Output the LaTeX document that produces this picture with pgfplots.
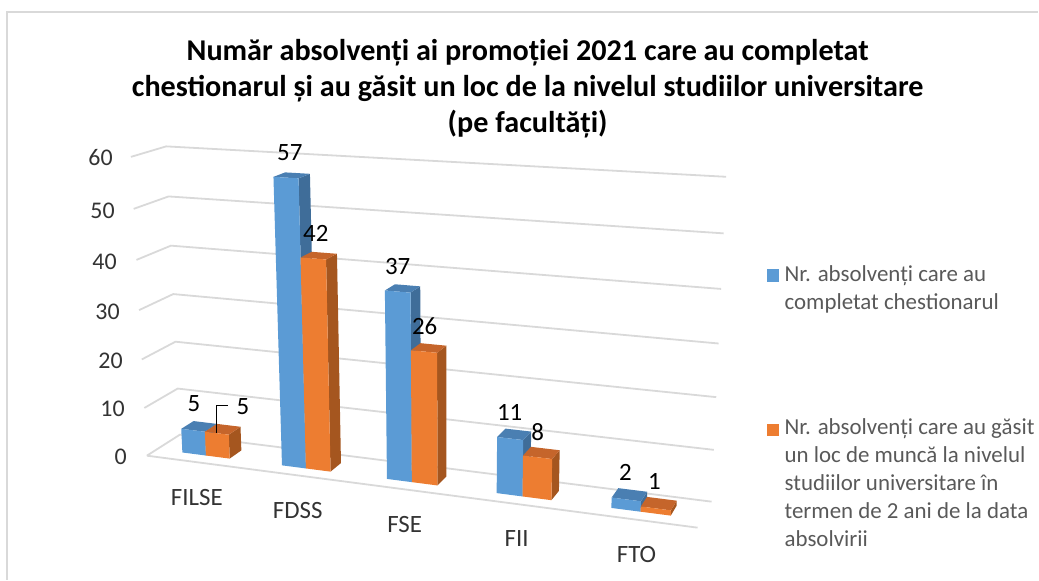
\documentclass[border=0pt]{standalone}
\usepackage{fontspec}
\setmainfont{Carlito}
\usepackage{pgfplots}
\pgfplotsset{compat=1.18}
\definecolor{gridc}{HTML}{D9D9D9}
\definecolor{blF}{HTML}{5B9BD5}
\definecolor{blT}{HTML}{4A7FB2}
\definecolor{blS}{HTML}{3F6D99}
\definecolor{orF}{HTML}{ED7D31}
\definecolor{orT}{HTML}{C5652B}
\definecolor{orS}{HTML}{A5561F}
\definecolor{legc}{HTML}{595959}
\definecolor{tickc}{HTML}{333333}
% projection of (category c, depth d, value) on to the picture plane
\newcommand\U{((\thisrow{c}+0.5)/5)}
\newcommand\D{\thisrow{d}}
\newcommand\V{(\thisrow{val}/60)}
\newcommand\W{(1-0.094*\U+0.0382*\D-0.05*\V)}
\newcommand\PX{(147+485.4*\U+39.9*\D-22.55*\V)/\W}
\newcommand\PY{(456+22.4*\U-4.4*\D-306.85*\V)/\W-10*\U*\V}
\pgfkeys{/pgfplots/table/proj/.style={/pgfplots/table/row sep=\\,/pgfplots/table/x expr=\PX,/pgfplots/table/y expr=\PY}}
\newcommand\gridl[1]{\addplot[gridc,line width=1.8bp,mark=none] table[proj]{c d val\\ -0.5 0 #1\\ -0.5 1 #1\\ 4.5 1 #1\\};}
% \tdbar{c0}{c1}{value}{front}{top}{side}
\newcommand\tdbar[6]{%
\addplot[fill=#6,draw=none,mark=none] table[proj]{c d val\\ #2 0.3 0\\ #2 0.68 0\\ #2 0.68 #3\\ #2 0.3 #3\\};
\addplot[fill=#5,draw=none,mark=none] table[proj]{c d val\\ #1 0.3 #3\\ #2 0.3 #3\\ #2 0.68 #3\\ #1 0.68 #3\\};
\addplot[fill=#4,draw=none,mark=none] table[proj]{c d val\\ #1 0.3 0\\ #2 0.3 0\\ #2 0.3 #3\\ #1 0.3 #3\\};
}
\begin{document}
\begin{tikzpicture}
\begin{axis}[scale only axis,width=1039bp,height=580bp,xmin=0,xmax=1039,ymin=0,ymax=580,y dir=reverse,hide axis,clip=false]
\path (axis cs:0,0) rectangle (axis cs:1039,580);
% frame
\addplot[gridc,line width=1.5bp,mark=none] coordinates {(7,580) (7,12) (1039,12)};
% walls and floor
\gridl{10}\gridl{20}\gridl{30}\gridl{40}\gridl{50}\gridl{60}
\gridl{0}
\addplot[gridc,line width=1.8bp,mark=none] table[proj]{c d val\\ -0.5 0 0\\ 4.5 0 0\\};
% FILSE
\tdbar{-0.245}{-0.01}{5}{blF}{blT}{blS}
\tdbar{-0.01}{0.225}{5}{orF}{orT}{orS}
% FDSS
\tdbar{0.735}{0.965}{57}{blF}{blT}{blS}
\tdbar{0.965}{1.20}{42}{orF}{orT}{orS}
% FSE
\tdbar{1.73}{1.96}{37}{blF}{blT}{blS}
\tdbar{1.96}{2.195}{26}{orF}{orT}{orS}
% FII
\tdbar{2.73}{2.96}{11}{blF}{blT}{blS}
\tdbar{2.96}{3.215}{8}{orF}{orT}{orS}
% FTO
\tdbar{3.735}{3.985}{2}{blF}{blT}{blS}
\tdbar{3.985}{4.24}{1}{orF}{orT}{orS}
% leader line
\addplot[black,line width=1bp,mark=none] coordinates {(217,433) (217,406) (228,406)};
% title
\node[align=center,font=\fontsize{30.3}{36}\selectfont\bfseries,text=black] at (axis cs:528,89) {Număr absolvenți ai promoției 2021 care au completat\\chestionarul și au găsit un loc de la nivelul studiilor universitare\\(pe facultăți)};
% value axis labels
\node[anchor=east,inner sep=0pt,font=\fontsize{24}{28}\selectfont,text=tickc] at (axis cs:113,158) {60};
\node[anchor=east,inner sep=0pt,font=\fontsize{24}{28}\selectfont,text=tickc] at (axis cs:115,211) {50};
\node[anchor=east,inner sep=0pt,font=\fontsize{24}{28}\selectfont,text=tickc] at (axis cs:117,262) {40};
\node[anchor=east,inner sep=0pt,font=\fontsize{24}{28}\selectfont,text=tickc] at (axis cs:120,312) {30};
\node[anchor=east,inner sep=0pt,font=\fontsize{24}{28}\selectfont,text=tickc] at (axis cs:123,361) {20};
\node[anchor=east,inner sep=0pt,font=\fontsize{24}{28}\selectfont,text=tickc] at (axis cs:125,409) {10};
\node[anchor=east,inner sep=0pt,font=\fontsize{24}{28}\selectfont,text=tickc] at (axis cs:127,457) {0};
% category labels
\node[font=\fontsize{25}{29}\selectfont,text=tickc] at (axis cs:197,498) {FILSE};
\node[font=\fontsize{25}{29}\selectfont,text=tickc] at (axis cs:298,511) {FDSS};
\node[font=\fontsize{25}{29}\selectfont,text=tickc] at (axis cs:405,525) {FSE};
\node[font=\fontsize{25}{29}\selectfont,text=tickc] at (axis cs:517,539) {FII};
\node[font=\fontsize{25}{29}\selectfont,text=tickc] at (axis cs:637,555) {FTO};
% data labels
\node[font=\fontsize{25}{29}\selectfont] at (axis cs:290,153) {57};
\node[font=\fontsize{25}{29}\selectfont] at (axis cs:316,234) {42};
\node[font=\fontsize{25}{29}\selectfont] at (axis cs:194,404) {5};
\node[font=\fontsize{25}{29}\selectfont] at (axis cs:243,407) {5};
\node[font=\fontsize{25}{29}\selectfont] at (axis cs:398,267) {37};
\node[font=\fontsize{25}{29}\selectfont] at (axis cs:425,326) {26};
\node[font=\fontsize{25}{29}\selectfont] at (axis cs:510,413) {11};
\node[font=\fontsize{25}{29}\selectfont] at (axis cs:538,432) {8};
\node[font=\fontsize{25}{29}\selectfont] at (axis cs:626,473) {2};
\node[font=\fontsize{25}{29}\selectfont] at (axis cs:655,482) {1};
% legend
\addplot[fill=blF,draw=none,mark=none] coordinates {(768,269) (780,269) (780,282) (768,282)};
\addplot[fill=orF,draw=none,mark=none] coordinates {(768,424) (780,424) (780,436) (768,436)};
\node[anchor=north west,inner sep=0pt,align=left,font=\fontsize{23}{28}\selectfont,text=legc] at (axis cs:785,266) {Nr. absolvenți care au\\completat chestionarul};
\node[anchor=north west,inner sep=0pt,align=left,font=\fontsize{23}{28}\selectfont,text=legc] at (axis cs:785,419) {Nr. absolvenți care au găsit\\un loc de muncă la nivelul\\studiilor universitare în\\termen de 2 ani de la data\\absolvirii};
\end{axis}
\end{tikzpicture}
\end{document}
